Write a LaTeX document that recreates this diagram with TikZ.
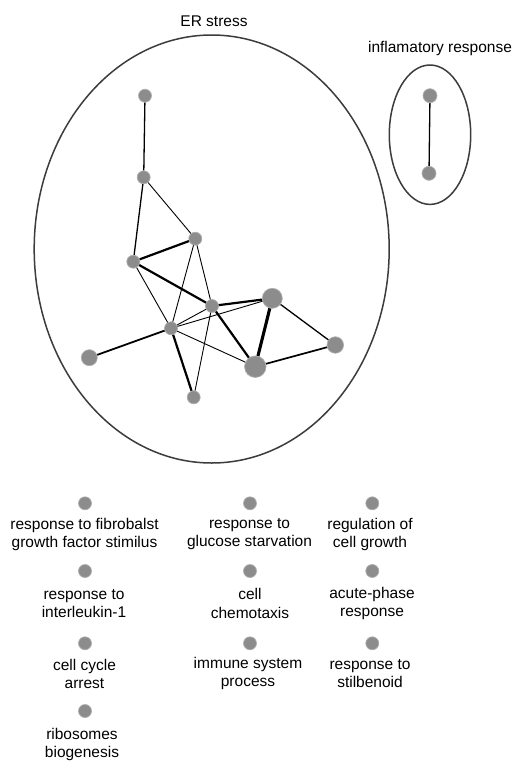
\documentclass[tikz,border=0pt]{standalone}
\usepackage{fontspec}
\setmainfont{Liberation Sans}
\begin{document}
\begin{tikzpicture}[x=1pt,y=-1pt,
  gnode/.style={circle,fill={rgb,255:red,140;green,140;blue,140},draw={rgb,255:red,175;green,175;blue,175},line width=0.7pt,inner sep=0pt,minimum size=#1},
  gnode/.default=13pt,
  grp/.style={draw={rgb,255:red,60;green,60;blue,60},line width=1.5pt},
  lbl/.style={font=\fontsize{15.5}{18.3}\selectfont,align=center,inner sep=0pt},
  e1/.style={line width=0.9pt},
  e2/.style={line width=1.3pt},
  e3/.style={line width=2.2pt},
  e4/.style={line width=3.1pt}]
\useasboundingbox[fill=white] (0,0) rectangle (514,764);
% groups
\draw[grp] (211.7,249) ellipse [x radius=177.5, y radius=214];
\draw[grp] (430,134.7) ellipse [x radius=40.7, y radius=69.7];
\node[lbl] (ertitle) at (214,21) {ER stress};
\node[lbl] (inftitle) at (440,48) {inflamatory response};
% ER stress network
\node[gnode] (n1) at (145,95.7) {};
\node[gnode] (n2) at (143.7,177.3) {};
\node[gnode] (n3) at (195.3,238.7) {};
\node[gnode] (n4) at (133.3,261.7) {};
\node[gnode] (n5) at (212,306) {};
\node[gnode=20pt] (n6) at (272.3,298.3) {};
\node[gnode] (n7) at (171,328.3) {};
\node[gnode=16.5pt] (n8) at (335.3,345) {};
\node[gnode=16pt] (n9) at (89.3,357.7) {};
\node[gnode=21.5pt] (n10) at (255.3,366.7) {};
\node[gnode] (n11) at (193.7,397.3) {};
\draw[e2] (n1) -- (n2);
\draw[e2] (n2) -- (n4);
\draw[e1] (n2) -- (n3);
\draw[e3] (n4) -- (n3);
\draw[e3] (n4) -- (n5);
\draw[e1] (n4) -- (n7);
\draw[e1] (n3) -- (n7);
\draw[e1] (n3) -- (n5);
\draw[e3] (n5) -- (n6);
\draw[e1] (n5) -- (n7);
\draw[e1] (n7) -- (n6);
\draw[e3] (n5) -- (n10);
\draw[e1] (n5) -- (n11);
\draw[e3] (n7) -- (n11);
\draw[e1] (n7) -- (n10);
\draw[line width=1.8pt] (n7) -- (n9);
\draw[e4] (n6) -- (n10);
\draw[e2] (n6) -- (n8);
\draw[line width=1.7pt] (n10) -- (n8);
% inflammatory response
\node[gnode=14pt] (i1) at (430,95.7) {};
\node[gnode=14pt] (i2) at (429,173.3) {};
\draw[e2] (i1) -- (i2);
% singletons
\node[gnode] (s1) at (85,503.3) {};
\node[lbl] (t1) at (84.5,534.2) {response to fibrobalst\\growth factor stimilus};
\node[gnode] (s2) at (250,503.3) {};
\node[lbl] (t2) at (249.5,534.2) {response to\\glucose starvation};
\node[gnode] (s3) at (372.3,503.3) {};
\node[lbl] (t3) at (370,534.2) {regulation of\\cell growth};
\node[gnode] (s4) at (85,571) {};
\node[lbl] (t4) at (84,603.5) {response to\\interleukin-1};
\node[gnode] (s5) at (250,571) {};
\node[lbl] (t5) at (250,603.5) {cell\\chemotaxis};
\node[gnode] (s6) at (372.3,571) {};
\node[lbl] (t6) at (372,603.5) {acute-phase\\response};
\node[gnode] (s7) at (85,643.3) {};
\node[lbl] (t7) at (84.5,673.8) {cell cycle\\arrest};
\node[gnode] (s8) at (250,643.3) {};
\node[lbl] (t8) at (248,673.8) {immune system\\process};
\node[gnode] (s9) at (372.3,643.3) {};
\node[lbl] (t9) at (370,673.8) {response to\\stilbenoid};
\node[gnode] (s10) at (85,711) {};
\node[lbl] (t10) at (82,744.3) {ribosomes\\biogenesis};
\end{tikzpicture}
\end{document}
